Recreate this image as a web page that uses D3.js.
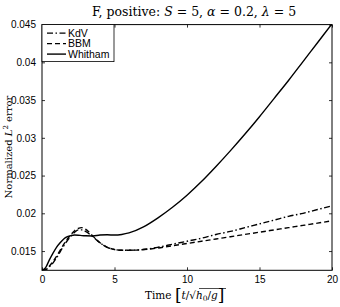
<!DOCTYPE html>
<html><head><meta charset="utf-8">
<script src="https://cdn.jsdelivr.net/npm/d3@7/dist/d3.min.js"></script>
<style>body{margin:0;background:#fff}svg{display:block}</style>
</head><body>
<svg id="c" width="340" height="307"></svg>
<script>
const time   = [0,0.25,0.5,0.75,1,1.25,1.5,1.75,2,2.25,2.5,2.75,3,3.5,4,4.5,5,5.5,6,7,8,9,10,11,12,13,14,15,16,17,18,19,20];
const kdv    = [0.01245,0.0125,0.0129,0.0134,0.0141,0.0149,0.0157,0.0164,0.0170,0.0175,0.0178,0.0178,0.0176,0.0169,0.0161,0.0155,0.0152,0.0151,0.0151,0.0152,0.0155,0.0159,0.0163,0.0167,0.0172,0.0176,0.0181,0.0186,0.0191,0.0196,0.0200,0.0205,0.0210];
const bbm    = [0.01245,0.0126,0.0130,0.0136,0.0143,0.0151,0.0159,0.0166,0.0172,0.0177,0.0180,0.0181,0.0179,0.0170,0.0161,0.0155,0.0152,0.0151,0.0151,0.0152,0.0154,0.0157,0.0160,0.0163,0.0166,0.0169,0.0172,0.0175,0.0178,0.0181,0.0184,0.0187,0.0190];
const whitham= [0.01245,0.0128,0.0138,0.0147,0.0155,0.0161,0.0166,0.0169,0.01705,0.01712,0.0171,0.01705,0.01702,0.0170,0.01712,0.01715,0.01712,0.0172,0.0174,0.0182,0.0194,0.0208,0.0224,0.0242,0.0262,0.0283,0.0305,0.0328,0.0352,0.0376,0.0401,0.0426,0.0451];
const xTicks = [0,5,10,15,20];
const yTicks = [0.015,0.02,0.025,0.03,0.035,0.04,0.045];
const seriesNames = ["KdV","BBM","Whitham"];

const svg = d3.select("#c");
const L=42, R=332, T=24.6, B=270.3;
const x = d3.scaleLinear().domain([0,20]).range([L,R]);
const y = d3.scaleLinear().domain([0.01245,0.045]).range([B,T]);

const series = [
  {name:seriesNames[0], vals:kdv, dash:"6,2.5,1.5,2.5"},
  {name:seriesNames[1], vals:bbm, dash:"5,3"},
  {name:seriesNames[2], vals:whitham, dash:null}
];

const line = d3.line().x(d=>x(d[0])).y(d=>y(d[1])).curve(d3.curveMonotoneX);
svg.append("clipPath").attr("id","cp").append("rect").attr("x",L).attr("y",T).attr("width",R-L).attr("height",B-T);
const g = svg.append("g").attr("clip-path","url(#cp)");
series.forEach(s=>{
  g.append("path").datum(time.map((t,i)=>[t,s.vals[i]]))
   .attr("d",line).attr("fill","none").attr("stroke","#000").attr("stroke-width",1.4)
   .attr("stroke-dasharray",s.dash);
});

// axes
const fontSans = "'Liberation Sans', Arial, sans-serif";
const xb = svg.append("g").attr("transform",`translate(0,${B})`)
  .call(d3.axisBottom(x).tickValues(xTicks).tickSize(-3).tickPadding(6).tickFormat(d3.format("d")));
const xt = svg.append("g").attr("transform",`translate(0,${T})`)
  .call(d3.axisTop(x).tickValues(xTicks).tickSize(-3).tickFormat(""));
const yl = svg.append("g").attr("transform",`translate(${L},0)`)
  .call(d3.axisLeft(y).tickValues(yTicks).tickSize(-3).tickPadding(6).tickFormat(d=>String(+d.toFixed(3))));
const yr = svg.append("g").attr("transform",`translate(${R},0)`)
  .call(d3.axisRight(y).tickValues(yTicks).tickSize(-3).tickFormat(""));
[xb,xt,yl,yr].forEach(a=>{
  a.select(".domain").remove();
  a.selectAll("line").attr("stroke","#000").attr("stroke-width",0.8);
  a.selectAll("text").attr("font-family",fontSans).attr("font-size",10).attr("fill","#000");
});
svg.append("rect").attr("x",L).attr("y",T).attr("width",R-L).attr("height",B-T)
  .attr("fill","none").attr("stroke","#000").attr("stroke-width",1);

// title
const serif = "'DejaVu Serif', serif";
const title = svg.append("text").attr("x",194).attr("y",16).attr("text-anchor","middle")
  .attr("font-family",serif).attr("font-size",12.5);
title.append("tspan").text("F, positive: ");
title.append("tspan").attr("font-style","italic").text("S");
title.append("tspan").text(" = 5,  ");
title.append("tspan").attr("font-style","italic").text("α");
title.append("tspan").text(" = 0.2,  ");
title.append("tspan").attr("font-style","italic").text("λ");
title.append("tspan").text(" = 5");

// y label
const ylab = svg.append("text").attr("transform","translate(11.5,147) rotate(-90)").attr("text-anchor","middle")
  .attr("font-family",serif).attr("font-size",10);
ylab.append("tspan").text("Normalized ");
ylab.append("tspan").attr("font-style","italic").text("L");
ylab.append("tspan").attr("font-size",7).attr("dy",-3.5).text("2");
ylab.append("tspan").attr("dy",3.5).text(" error");

// x label
const xlab = svg.append("text").attr("x",145).attr("y",299)
  .attr("font-family",serif).attr("font-size",10.5);
xlab.append("tspan").text("Time ");
xlab.append("tspan").attr("font-size",17).attr("font-weight","200").attr("dy",1.5).text("[");
xlab.append("tspan").attr("font-style","italic").attr("dy",-1.5).text("t");
xlab.append("tspan").text("/√");
xlab.append("tspan").attr("font-style","italic").text("h");
xlab.append("tspan").attr("font-size",7.5).attr("dy",2).text("0");
xlab.append("tspan").attr("dy",-2).text("/");
xlab.append("tspan").attr("font-style","italic").text("g");
xlab.append("tspan").attr("font-size",17).attr("dy",1.5).text("]");
svg.append("line").attr("x1",199).attr("x2",226).attr("y1",288.5).attr("y2",288.5).attr("stroke","#000").attr("stroke-width",0.7);

// legend
const lg = svg.append("g");
lg.append("rect").attr("x",L).attr("y",T).attr("width",72).attr("height",37)
  .attr("fill","#fff").attr("stroke","#000").attr("stroke-width",0.8);
series.forEach((s,i)=>{
  const yy = T+8.5+i*10.5;
  lg.append("line").attr("x1",L+5).attr("x2",L+24).attr("y1",yy).attr("y2",yy)
    .attr("stroke","#000").attr("stroke-width",1.4).attr("stroke-dasharray",s.dash);
  lg.append("text").attr("x",L+26).attr("y",yy+3.8).attr("font-family",fontSans).attr("font-size",10.5).text(s.name);
});
</script>
</body></html>
